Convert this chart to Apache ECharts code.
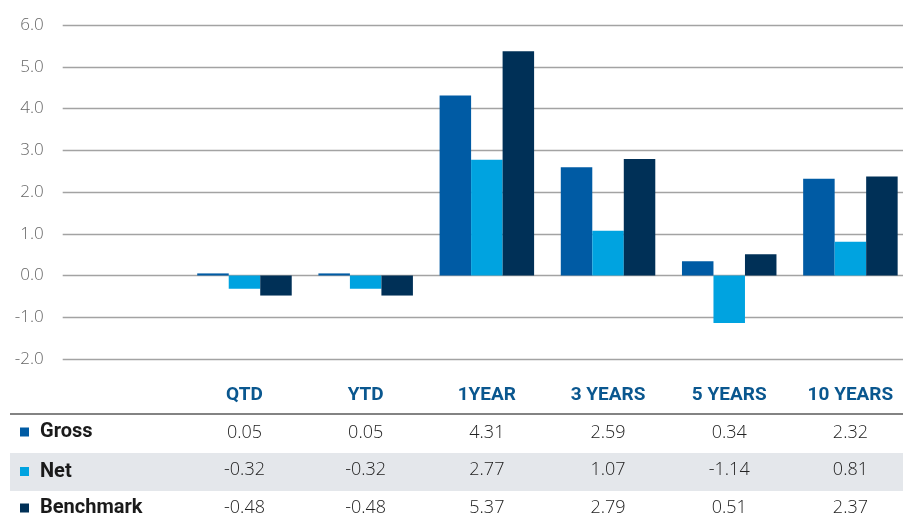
<!DOCTYPE html>
<html>
<head>
<meta charset="utf-8">
<script src="https://cdn.jsdelivr.net/npm/echarts@6/dist/echarts.min.js"></script>
<style>
html,body{margin:0;padding:0;background:#fff;overflow:hidden;width:903px;height:521px;}
#main{width:911px;height:521px;}
</style>
</head>
<body>
<div id="main"></div>
<script>
const categories = ['', 'QTD', 'YTD', '1YEAR', '3 YEARS', '5 YEARS', '10 YEARS'];
const seriesNames = ['Gross', 'Net', 'Benchmark'];
const gross = [null, 0.05, 0.05, 4.31, 2.59, 0.34, 2.32];
const net = [null, -0.32, -0.32, 2.77, 1.07, -1.14, 0.81];
const benchmark = [null, -0.48, -0.48, 5.37, 2.79, 0.51, 2.37];
const colors = ['#005ba4', '#00a3e0', '#003057'];
const yMin = -2, yMax = 6, yStep = 1;

const allSeries = [gross, net, benchmark];
const chart = echarts.init(document.getElementById('main'));

const labelFont = 'Open Sans, Lato, sans-serif';
const boldFont = 'Roboto, Lato, sans-serif';

const rowY = [432, 471.5, 508];
const graphics = [
  { type: 'rect', shape: { x: 10, y: 453, width: 900, height: 38 }, style: { fill: '#e4e7eb' }, z: -1, silent: true },
  { type: 'line', shape: { x1: 10, y1: 414, x2: 910, y2: 414 }, style: { stroke: '#5a5a5a', lineWidth: 1.5 }, silent: true }
];
seriesNames.forEach((n, i) => {
  graphics.push({ type: 'rect', shape: { x: 20, y: rowY[i] - 4.5, width: 9, height: 9 }, style: { fill: colors[i] }, silent: true });
  graphics.push({ type: 'text', x: 40, y: rowY[i], style: { text: n, font: 'bold 20px ' + boldFont, fill: '#1a1a1a', textVerticalAlign: 'middle', verticalAlign: 'middle' }, silent: true });
});

chart.setOption({
  animation: false,
  grid: { left: 62.7, right: 0, top: 25, bottom: 162 },
  xAxis: {
    type: 'category',
    data: categories,
    axisLine: { show: false },
    axisTick: { show: false },
    axisLabel: {
      interval: 0,
      margin: 18,
      formatter: function (val, idx) {
        if (!val) return '';
        const lines = ['{h|' + val + '}'];
        allSeries.forEach(s => lines.push('{v|' + s[idx].toFixed(2) + '}'));
        return lines.join('\n');
      },
      rich: {
        h: { fontFamily: boldFont, fontWeight: 'bold', fontSize: 19, color: '#0a578f', lineHeight: 37.3 },
        v: { fontFamily: labelFont, fontWeight: 300, fontSize: 18, color: '#222', lineHeight: 37.3 }
      }
    }
  },
  yAxis: {
    type: 'value',
    min: yMin, max: yMax, interval: yStep,
    axisLine: { show: false },
    axisTick: { show: false },
    splitLine: { lineStyle: { color: '#a3a3a3', width: 1.3 } },
    axisLabel: {
      margin: 19,
      fontFamily: labelFont, fontWeight: 300, fontSize: 17, color: '#666',
      formatter: v => v.toFixed(1)
    }
  },
  series: allSeries.map((d, i) => ({
    name: seriesNames[i],
    type: 'bar',
    data: d,
    barWidth: 31.5,
    barGap: '0%',
    itemStyle: { color: colors[i] }
  })),
  graphic: graphics
});
</script>
</body>
</html>
